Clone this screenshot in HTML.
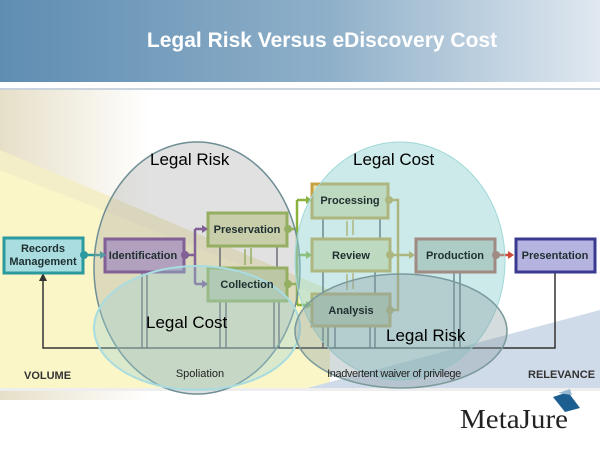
<!DOCTYPE html>
<html><head><meta charset="utf-8"><style>
html,body{margin:0;padding:0;background:#fff}
svg{display:block}
.bx{font-family:"Liberation Sans",sans-serif;font-weight:bold;font-size:11px;fill:#1f2f30}
</style></head><body>
<svg width="600" height="450" viewBox="0 0 600 450" xmlns="http://www.w3.org/2000/svg" font-family="Liberation Sans, sans-serif">
<defs>
<linearGradient id="hdr" x1="0" x2="1" y1="0" y2="0">
<stop offset="0" stop-color="#5f8db2"/><stop offset="0.55" stop-color="#8fb0c9"/><stop offset="1" stop-color="#e0e8f0"/></linearGradient>
<linearGradient id="lft" x1="0" x2="1"><stop offset="0" stop-color="#e6dfc8"/><stop offset="0.25" stop-color="#fff"/></linearGradient>
</defs>
<rect width="600" height="450" fill="#fff"/>
<rect x="0" y="90" width="600" height="310" fill="url(#lft)"/>
<rect width="600" height="82" fill="url(#hdr)"/>
<line x1="0" y1="89" x2="600" y2="89" stroke="#b8c6d4" stroke-width="1.5"/>
<text x="322" y="47" text-anchor="middle" font-size="21" font-weight="bold" fill="#fff">Legal Risk Versus eDiscovery Cost</text>
<polygon points="0,150 330,290 330,390 0,390" fill="#fbf6c8"/>
<polygon points="0,150 330,290 330,300 0,170" fill="#efe9c8" opacity="0.6"/>
<polygon points="300,390 600,310 600,390" fill="#cfdbe8"/>
<rect x="0" y="388" width="600" height="3" fill="#eeeeee"/>
<polyline points="43,275 43,348 555,348 555,272" fill="none" stroke="#333" stroke-width="1.5"/>
<path d="M39,281L43,273L47,281z" fill="#333"/>
<g stroke="#334" stroke-width="1.3">
<line x1="142" y1="272" x2="142" y2="348"/><line x1="147" y1="272" x2="147" y2="348"/>
<line x1="220" y1="301" x2="220" y2="348"/><line x1="226" y1="301" x2="226" y2="348"/>
<line x1="274" y1="301" x2="274" y2="348"/><line x1="279" y1="301" x2="279" y2="348"/>
<line x1="220" y1="246" x2="220" y2="267"/><line x1="277" y1="246" x2="277" y2="267"/>
<line x1="323" y1="218" x2="323" y2="238"/><line x1="380" y1="218" x2="380" y2="238"/>
<line x1="323" y1="271" x2="323" y2="293"/><line x1="375" y1="271" x2="375" y2="293"/>
<line x1="323" y1="326" x2="323" y2="348"/><line x1="328" y1="326" x2="328" y2="348"/><line x1="335" y1="326" x2="335" y2="348"/>
<line x1="370" y1="326" x2="370" y2="348"/><line x1="375" y1="326" x2="375" y2="348"/>
<line x1="454" y1="272" x2="454" y2="348"/><line x1="460" y1="272" x2="460" y2="348"/>
</g>
<rect x="4" y="238" width="79" height="35" fill="#a9dde0" stroke="#2a9a9e" stroke-width="3"/>
<rect x="105" y="239" width="79" height="33" fill="#b79ccb" stroke="#6b3a8a" stroke-width="3"/>
<rect x="208" y="213" width="79" height="33" fill="#d8e2aa" stroke="#8ab23c" stroke-width="3"/>
<rect x="208" y="268" width="79" height="33" fill="#c5d8a4" stroke="#8ab23c" stroke-width="3"/>
<rect x="312" y="184" width="76" height="34" fill="#e4e2b4" stroke="#c9a040" stroke-width="3"/>
<rect x="312" y="239" width="78" height="32" fill="#e4e2b4" stroke="#c9a040" stroke-width="3"/>
<rect x="312" y="294" width="78" height="32" fill="#cfcfa8" stroke="#c9a040" stroke-width="3"/>
<rect x="416" y="239" width="79" height="33" fill="#c9c9c0" stroke="#b05048" stroke-width="3"/>
<rect x="516" y="239" width="79" height="33" fill="#b5b4e0" stroke="#3a3a90" stroke-width="3"/>
<g fill="none" stroke-width="2.5">
<path d="M83,255H100" stroke="#2a9a9e"/>
<path d="M184,255H195M195,229V284M195,229H203M195,284H203" stroke="#6b3a8a"/>
<path d="M287,229H297M287,284H297M297,200V305M297,200H307M297,255H307M297,305H307" stroke="#8ab23c"/>
<path d="M388,200H398V310H390M390,255H410" stroke="#c9a040"/>
<path d="M495,255H509" stroke="#d04838"/>
<path d="M245,249V265M251,248V264" stroke="#8ab23c" stroke-width="1.5"/>
<path d="M347,221V236M353,220V235M347,274V290M353,273V289" stroke="#c9a040" stroke-width="1.5"/>
</g>
<g>
<circle cx="84" cy="255" r="4" fill="#2a9a9e"/><path d="M100,251L106,255L100,259z" fill="#2a9a9e"/>
<circle cx="185" cy="255" r="4" fill="#6b3a8a"/><path d="M202,225L208,229L202,233zM202,280L208,284L202,288z" fill="#6b3a8a"/>
<circle cx="288" cy="229" r="4" fill="#8ab23c"/><circle cx="288" cy="284" r="4" fill="#8ab23c"/>
<path d="M306,196L312,200L306,204zM306,251L312,255L306,259zM306,301L312,305L306,309z" fill="#8ab23c"/>
<circle cx="389" cy="200" r="4" fill="#c9a040"/><circle cx="390" cy="255" r="4" fill="#c9a040"/><circle cx="390" cy="310" r="4" fill="#c9a040"/>
<path d="M409,251L415,255L409,259z" fill="#c9a040"/>
<circle cx="496" cy="255" r="4" fill="#b05048"/><path d="M508,251L514,255L508,259z" fill="#d04838"/>
</g>
<ellipse cx="197" cy="268" rx="103" ry="126" fill="#a8a8a8" fill-opacity="0.35" stroke="#6f8f95" stroke-width="1.5"/>
<ellipse cx="400" cy="261" rx="105" ry="119" fill="#8fd0cf" fill-opacity="0.45" stroke="#a0d8d8" stroke-width="1"/>
<ellipse cx="197" cy="328" rx="103" ry="62" fill="#9fd0d4" fill-opacity="0.35" stroke="#a8dce0" stroke-width="2"/>
<ellipse cx="401" cy="331" rx="106" ry="57" fill="#889aa0" fill-opacity="0.35" stroke="#7a9a9c" stroke-width="1.5"/>
<text class="bx" x="43" y="252" text-anchor="middle">Records</text>
<text class="bx" x="43" y="265" text-anchor="middle">Management</text>
<text class="bx" x="143" y="259" text-anchor="middle">Identification</text>
<text class="bx" x="247" y="233" text-anchor="middle">Preservation</text>
<text class="bx" x="247" y="288" text-anchor="middle">Collection</text>
<text class="bx" x="350" y="204" text-anchor="middle">Processing</text>
<text class="bx" x="351" y="259" text-anchor="middle">Review</text>
<text class="bx" x="351" y="314" text-anchor="middle">Analysis</text>
<text class="bx" x="455" y="259" text-anchor="middle">Production</text>
<text class="bx" x="555" y="259" text-anchor="middle">Presentation</text>
<text x="150" y="165" font-size="17" fill="#000">Legal Risk</text>
<text x="353" y="165" font-size="17" fill="#000">Legal Cost</text>
<text x="146" y="328" font-size="17" fill="#000">Legal Cost</text>
<text x="386" y="341" font-size="17" fill="#000">Legal Risk</text>
<text x="200" y="377" text-anchor="middle" font-size="11" fill="#222">Spoliation</text>
<text x="394" y="377" text-anchor="middle" font-size="11" fill="#222" letter-spacing="-0.4">Inadvertent waiver of privilege</text>
<text x="24" y="379" font-size="11" font-weight="bold" fill="#333">VOLUME</text>
<text x="528" y="378" font-size="11" font-weight="bold" fill="#333">RELEVANCE</text>
<text x="460" y="428" style="font-family:'Liberation Serif',serif;font-size:27px" fill="#222" textLength="108" lengthAdjust="spacingAndGlyphs">MetaJure</text>
<path d="M553,397L568,392L580,408L565,412z" fill="#1d5e90"/>
<path d="M558,393L570,389L572,395z" fill="#9ab8d0"/>
</svg>
</body></html>
